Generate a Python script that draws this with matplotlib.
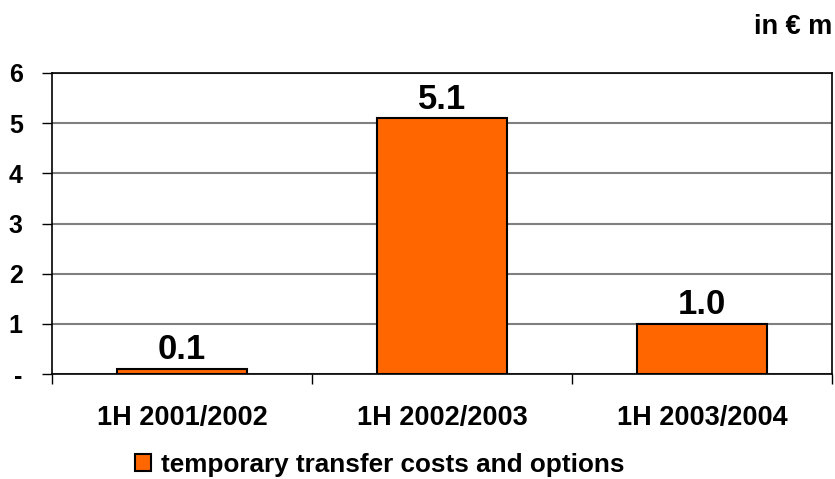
import matplotlib
matplotlib.use('Agg')
import matplotlib.pyplot as plt
from matplotlib.ticker import FixedLocator, FuncFormatter

periods = ['1H 2001/2002', '1H 2002/2003', '1H 2003/2004']
costs = [0.1, 5.1, 1.0]
value_labels = ['0.1', '5.1', '1.0']
series_name = 'temporary transfer costs and options'
unit = 'in \u20ac m'

plt.rcParams['font.family'] = ['Liberation Sans', 'DejaVu Sans']
plt.rcParams['font.weight'] = 'bold'

fig = plt.figure(figsize=(8.35, 4.79), dpi=100)
ax = fig.add_axes([0.0623, 0.2192, 0.934, 0.6284])

x = range(len(periods))
bars = ax.bar(x, costs, width=0.5, color='#ff6600', edgecolor='black',
              linewidth=1.5, label=series_name, zorder=3)

for b, txt in zip(bars, value_labels):
    ax.text(b.get_x() + b.get_width() / 2, b.get_height() + 0.05, txt,
            ha='center', va='bottom', fontsize=25, fontweight='bold')

ax.set_xlim(-0.5, 2.5)
ax.set_ylim(0, 6)
ax.set_yticks(range(0, 7))
ax.yaxis.set_major_formatter(FuncFormatter(lambda v, p: '-' if v == 0 else '%d' % v))
ax.tick_params(axis='y', direction='out', length=7, width=1, pad=14, labelsize=18)
ax.grid(axis='y', color='#7f7f7f', linewidth=1.5, zorder=0)

ax.set_xticks(list(x))
ax.set_xticklabels(periods)
ax.xaxis.set_minor_locator(FixedLocator([-0.5, 0.5, 1.5, 2.5]))
ax.tick_params(axis='x', which='major', length=0, pad=22, labelsize=19.5)
ax.tick_params(axis='x', which='minor', direction='out', length=7, width=1)

for s in ax.spines.values():
    s.set_linewidth(1.2)
    s.set_color('black')

fig.text(0.997, 0.944, unit, ha='right', va='center', fontsize=19.5, fontweight='bold')

fig.legend(loc='center', bbox_to_anchor=(0.455, 0.03), frameon=False,
           fontsize=18.8, handlelength=0.6, handleheight=0.6, handletextpad=0.4,
           borderaxespad=0)

plt.savefig('out.png', dpi=100)
